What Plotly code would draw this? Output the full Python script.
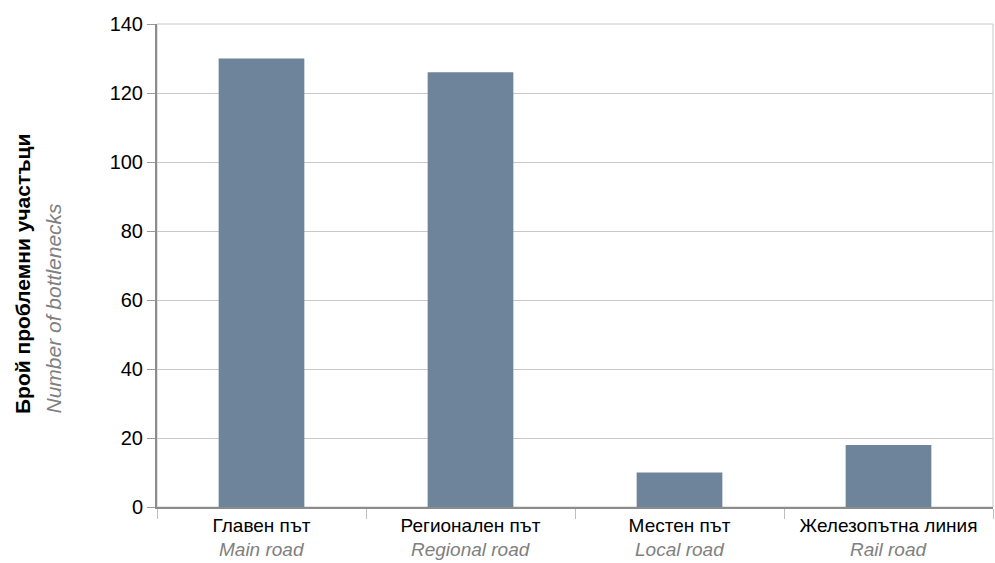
import plotly.graph_objects as go

# Bottlenecks by infrastructure type
categories_bg = ["Главен път", "Регионален път", "Местен път", "Железопътна линия"]
categories_en = ["Main road", "Regional road", "Local road", "Rail road"]
counts = [130, 126, 10, 18]

y_ticks = [0, 20, 40, 60, 80, 100, 120, 140]

W, H = 995, 563
M_L, M_R, M_T, M_B = 157, 2, 24, 56
plot_w = W - M_L - M_R
plot_h = H - M_T - M_B


def px_x(x_pixel):
    """Horizontal page pixel -> paper coordinate."""
    return (x_pixel - M_L) / plot_w


def px_y(y_pixel):
    """Vertical page pixel -> paper coordinate."""
    return (H - M_B - y_pixel) / plot_h


fig = go.Figure(
    go.Bar(
        x=categories_en,
        y=counts,
        marker=dict(color="#6E849B", line=dict(width=0)),
        hoverinfo="x+y",
    )
)

fig.update_layout(
    width=W,
    height=H,
    margin=dict(l=M_L, r=M_R, t=M_T, b=M_B),
    paper_bgcolor="white",
    plot_bgcolor="white",
    bargap=0.59,
    showlegend=False,
    font=dict(family="Liberation Sans, Arial, sans-serif", color="black"),
)

fig.update_xaxes(
    type="category",
    tickmode="array",
    tickvals=categories_en,
    ticktext=categories_bg,
    tickson="boundaries",
    ticks="outside",
    ticklen=10,
    tickcolor="#bdbdbd",
    tickwidth=1,
    tickfont=dict(size=19, color="black"),
    showline=True,
    linecolor="#8c8c8c",
    linewidth=2,
    showgrid=False,
    zeroline=False,
)

fig.update_yaxes(
    range=[0, 140],
    tickmode="array",
    tickvals=y_ticks,
    ticktext=[str(v) for v in y_ticks],
    ticks="outside",
    ticklen=8,
    tickcolor="#9a9a9a",
    tickfont=dict(size=20, color="black"),
    showline=True,
    linecolor="#8c8c8c",
    linewidth=2,
    showgrid=True,
    gridcolor="#c8c8c8",
    gridwidth=1,
    zeroline=False,
)

# Frame around the plotting area (top and right edges)
fig.add_shape(
    type="rect", xref="paper", yref="paper", x0=0, x1=1, y0=0, y1=1,
    line=dict(color="#c8c8c8", width=1), layer="below",
)

# English category names under the Bulgarian tick labels
for cat in categories_en:
    fig.add_annotation(
        text=f"<i>{cat}</i>",
        xref="x", yref="paper",
        x=cat, y=px_y(549),
        xanchor="center", yanchor="middle",
        showarrow=False,
        font=dict(size=19, color="#808080"),
    )

# Two-line axis title: Bulgarian (bold) and English (italic, grey)
fig.add_annotation(
    text="<b>Брой проблемни участъци</b>",
    xref="paper", yref="paper",
    x=px_x(22), y=px_y(416),
    xanchor="center", yanchor="bottom",
    textangle=-90, showarrow=False,
    font=dict(size=21, color="black"),
)
fig.add_annotation(
    text="<i>Number of bottlenecks</i>",
    xref="paper", yref="paper",
    x=px_x(53), y=px_y(416),
    xanchor="center", yanchor="bottom",
    textangle=-90, showarrow=False,
    font=dict(size=21, color="#808080"),
)

fig.write_html("out.html")
